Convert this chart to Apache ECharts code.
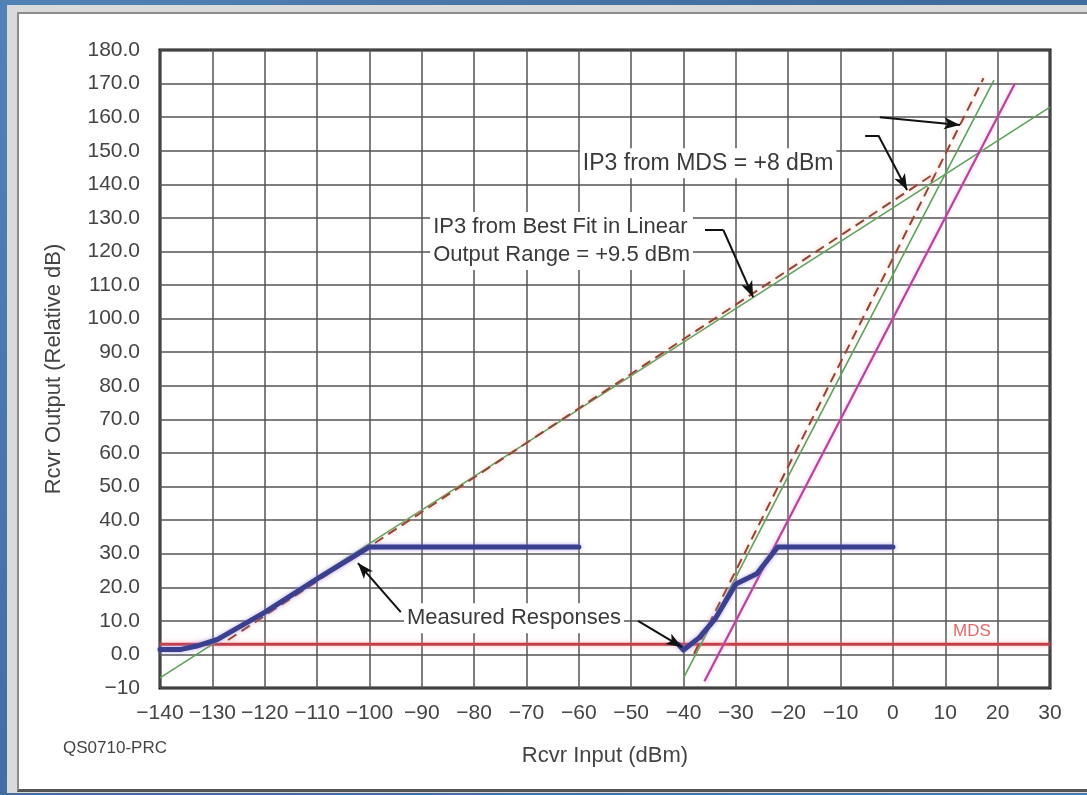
<!DOCTYPE html>
<html>
<head>
<meta charset="utf-8">
<script src="https://cdn.jsdelivr.net/npm/echarts@6/dist/echarts.min.js"></script>
<style>
  html, body { margin: 0; padding: 0; width: 1087px; height: 795px; overflow: hidden;
    background: linear-gradient(135deg, #5282b6 0%, #3f6b9d 50%, #4a78ab 100%); }
  #frame { position: absolute; left: 7px; top: 5px; width: 1100px; height: 788px; background: #dadada; }
  #panel { position: absolute; left: 17px; top: 12px; width: 1090px; height: 775px; background: #fff;
    border-top: 2px solid #8c8c8c; border-left: 2px solid #8c8c8c; border-bottom: 3px solid #555; }
  #chart { position: absolute; left: 0; top: 0; width: 1087px; height: 795px; }
</style>
</head>
<body>
<div id="frame"></div>
<div id="panel"></div>
<div id="chart"></div>
<script>
const FONT = '"Liberation Sans", Arial, Helvetica, sans-serif';

// measured receiver responses (dBm in, relative dB out)
const measuredLow = [[-140, 1.5], [-136, 1.5], [-133, 2.5], [-129, 4.5], [-120, 12.5], [-110, 22.5], [-100, 32], [-60, 32]];
const measuredHigh = [[-41, 3], [-40, 1.3], [-37, 5], [-34, 10.5], [-30, 21], [-26, 24], [-22, 32], [0, 32]];

// fitted / extrapolated lines
const bestFitLinear = [[-140, -7], [30, 163]];
const bestFitThird = [[-40, -7], [19.3, 171]];
const thirdOrderRef = [[-36, -8], [23.3, 170]];
const mdsFirst = [[-127, 4.3], [8.3, 143.6]];
const mdsThird = [[-38, 0.2], [17.3, 171.6]];
const mdsLevel = [[-140, 3], [30, 3]];

// annotation leaders: [points...], last segment gets an arrowhead
const leaders = [
  [[-2.5, 160], [12.8, 157.7]],
  [[-5.3, 154.6], [-2.8, 154.6], [2.7, 138.3]],
  [[-35.9, 126.4], [-32.4, 126.4], [-26.7, 106.4]],
  [[-94, 12.6], [-102.2, 27.2]],
  [[-48.7, 10], [-40.3, 2.2]]
];

// annotation texts: [x, y, text, color, size]
const notes = [
  [-59.8, 146.3, 'IP3 from MDS = +8 dBm', '#3a3a3a', 23],
  [-88.4, 123.1, 'IP3 from Best Fit in Linear\nOutput Range = +9.5 dBm', '#3a3a3a', 22],
  [-93.4, 10.8, 'Measured Responses', '#3a3a3a', 22],
  [10.9, 6.8, 'MDS', '#e06a6a', 17]
];

const chart = echarts.init(document.getElementById('chart'));

const markSegments = [];
leaders.forEach(pts => {
  for (let i = 0; i < pts.length - 1; i++) {
    const last = i === pts.length - 2;
    markSegments.push([
      { coord: pts[i], symbol: 'none' },
      { coord: pts[i + 1], symbol: last ? 'arrow' : 'none', symbolSize: last ? [9, 16] : 0 }
    ]);
  }
});

function straight(name, data, color, width, extra) {
  return Object.assign({
    name, type: 'line', data, showSymbol: false, symbol: 'none', silent: true,
    lineStyle: { color, width }
  }, extra || {});
}

const option = {
  animation: false,
  backgroundColor: 'transparent',
  textStyle: { fontFamily: FONT },
  grid: { left: 160, right: 37, top: 50, bottom: 107, show: true, borderColor: '#111', borderWidth: 3 },
  xAxis: {
    type: 'value', min: -140, max: 30, interval: 10,
    axisLine: { show: false }, axisTick: { show: false },
    splitLine: { lineStyle: { color: '#555', width: 1.5 } },
    axisLabel: {
      color: '#444', fontSize: 21, margin: 15, fontFamily: FONT,
      formatter: v => (v < 0 ? '\u2212' + Math.abs(v) : String(v))
    },
    name: 'Rcvr Input (dBm)', nameLocation: 'middle', nameGap: 57,
    nameTextStyle: { color: '#444', fontSize: 22, fontFamily: FONT }
  },
  yAxis: {
    type: 'value', min: -10, max: 180, interval: 10,
    axisLine: { show: false }, axisTick: { show: false },
    splitLine: { lineStyle: { color: '#555', width: 1.5 } },
    axisLabel: {
      color: '#444', fontSize: 21, margin: 20, fontFamily: FONT,
      formatter: v => (v === -10 ? '\u221210' : v.toFixed(1))
    },
    name: 'Rcvr Output (Relative dB)', nameLocation: 'middle', nameGap: 95,
    nameTextStyle: { color: '#444', fontSize: 22, fontFamily: FONT }
  },
  series: [
    straight('MDS', mdsLevel, '#c8404a', 3, {
      lineStyle: { color: '#c23f4a', width: 3, shadowColor: 'rgba(255,150,150,0.7)', shadowBlur: 5 },
      markLine: {
        silent: true, symbol: ['none', 'none'], label: { show: false },
        lineStyle: { color: '#111', width: 2, type: 'solid' },
        data: markSegments
      }
    }),
    straight('Best fit linear', bestFitLinear, '#5aa35a', 1.6),
    straight('Best fit 3rd', bestFitThird, '#5aa35a', 1.6),
    straight('3rd order', thirdOrderRef, '#b8449e', 2.2, {
      lineStyle: { color: '#b8449e', width: 2.2, shadowColor: 'rgba(240,160,215,0.7)', shadowBlur: 4 }
    }),
    straight('MDS 1st', mdsFirst, '#9a4a3a', 2, {
      lineStyle: { color: '#924634', width: 2, type: [10, 6], shadowColor: 'rgba(255,160,150,0.8)', shadowBlur: 5 }
    }),
    straight('MDS 3rd', mdsThird, '#9a4a3a', 2, {
      lineStyle: { color: '#924634', width: 2, type: [10, 6], shadowColor: 'rgba(255,160,150,0.8)', shadowBlur: 5 }
    }),
    straight('Measured low', measuredLow, '#3a3f8e', 5, {
      lineStyle: { color: '#3a3f8e', width: 5, join: 'round', cap: 'round', shadowColor: 'rgba(150,130,220,0.7)', shadowBlur: 4 }
    }),
    straight('Measured high', measuredHigh, '#3a3f8e', 5, {
      lineStyle: { color: '#3a3f8e', width: 5, join: 'round', cap: 'round', shadowColor: 'rgba(150,130,220,0.7)', shadowBlur: 4 }
    })
  ]
};

chart.setOption(option);

const graphics = notes.map(([x, y, text, color, size]) => {
  const p = chart.convertToPixel({ gridIndex: 0 }, [x, y]);
  return {
    type: 'text', x: p[0], y: p[1], z: 1, silent: true,
    style: {
      text, fill: color, font: size + 'px ' + FONT, lineHeight: 28,
      verticalAlign: 'middle', align: 'left',
      backgroundColor: color === '#3a3a3a' ? '#fff' : 'transparent', padding: [1, 3]
    }
  };
});
graphics.push({
  type: 'text', x: 63, y: 748, silent: true,
  style: { text: 'QS0710-PRC', fill: '#444', font: '17px ' + FONT, verticalAlign: 'middle' }
});

chart.setOption({ graphic: graphics });
</script>
</body>
</html>
